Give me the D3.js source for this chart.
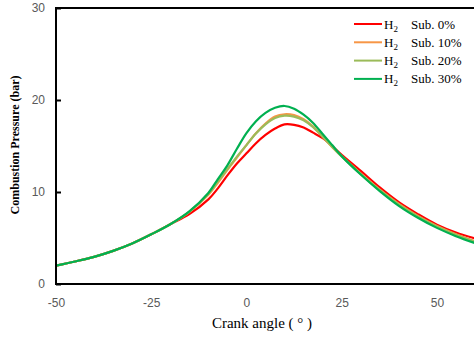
<!DOCTYPE html>
<html>
<head>
<meta charset="utf-8">
<script src="https://cdn.jsdelivr.net/npm/d3@7"></script>
<style>
  body { margin: 0; background: #fff; }
  svg { display: block; }
</style>
</head>
<body>
<svg id="chart" width="474" height="337"></svg>
<script>
// crank angles (deg) shared by all series
const angles = [-50, -45, -40, -35, -30, -25, -20, -15, -10, -7.5, -5, -2.5, 0, 2.5, 5, 7.5, 10, 12.5, 15, 17.5, 20, 22.5, 25, 30, 35, 40, 45, 50, 55, 60];

const sub0  = [2.0, 2.45, 2.95, 3.6, 4.4, 5.4, 6.5, 7.6, 9.2, 10.4, 11.8, 13.1, 14.2, 15.3, 16.2, 16.9, 17.35, 17.3, 17.0, 16.45, 15.85, 15.0, 14.05, 12.3, 10.5, 8.9, 7.6, 6.45, 5.6, 4.95];
const sub10 = [2.0, 2.45, 2.95, 3.6, 4.4, 5.4, 6.5, 7.85, 9.7, 11.0, 12.4, 13.75, 15.1, 16.4, 17.45, 18.2, 18.45, 18.35, 17.9, 17.1, 16.0, 14.9, 13.9, 12.0, 10.25, 8.7, 7.4, 6.3, 5.4, 4.65];
const sub20 = [2.0, 2.45, 2.95, 3.6, 4.4, 5.4, 6.5, 7.85, 9.8, 11.15, 12.5, 13.85, 15.1, 16.35, 17.35, 18.05, 18.3, 18.2, 17.8, 17.05, 16.0, 14.9, 13.85, 11.95, 10.2, 8.65, 7.35, 6.25, 5.35, 4.6];
const sub30 = [2.0, 2.45, 2.95, 3.6, 4.4, 5.4, 6.5, 7.9, 9.9, 11.4, 12.9, 14.7, 16.4, 17.7, 18.6, 19.15, 19.35, 19.05, 18.4, 17.5, 16.3, 15.1, 13.9, 11.9, 10.1, 8.5, 7.2, 6.1, 5.2, 4.45];

const seriesNames = ["0%", "10%", "20%", "30%"];
const seriesColors = ["#ff0000", "#f79646", "#9bbb59", "#00b050"];
const seriesValues = [sub0, sub10, sub20, sub30];

const xTicks = [-50, -25, 0, 25, 50];
const yTicks = [0, 10, 20, 30];

const svg = d3.select("#chart");
const margin = { top: 8, left: 56, bottom: 284, right: 475 };

const x = d3.scaleLinear().domain([-50, 60]).range([margin.left, margin.right]);
const y = d3.scaleLinear().domain([0, 30]).range([margin.bottom, margin.top]);

const tickFont = "12px 'Liberation Sans', Arial, sans-serif";

// y axis: ticks pointing inward, gray labels
const yAxis = svg.append("g")
  .attr("transform", `translate(${margin.left},0)`)
  .call(d3.axisRight(y).tickValues(yTicks).tickSize(5).tickFormat(d => String(d)));
yAxis.select(".domain").remove();
yAxis.selectAll("line").attr("stroke", "#000").attr("stroke-width", 2);
yAxis.selectAll("text")
  .attr("x", -11).attr("text-anchor", "end")
  .attr("fill", "#595959")
  .style("font", tickFont);

// x axis labels, no tick marks
const xAxis = svg.append("g")
  .attr("transform", `translate(0,${margin.bottom})`)
  .call(d3.axisBottom(x).tickValues(xTicks).tickSize(0).tickFormat(d => String(d)));
xAxis.select(".domain").remove();
xAxis.selectAll("text")
  .attr("y", 14)
  .attr("fill", "#595959")
  .style("font", tickFont);

// series
const line = d3.line()
  .x((d, i) => x(angles[i]))
  .y(d => y(d))
  .curve(d3.curveCatmullRom);

svg.append("defs").append("clipPath").attr("id", "clip")
  .append("rect").attr("x", margin.left).attr("y", margin.top)
  .attr("width", margin.right - margin.left).attr("height", margin.bottom - margin.top);

svg.append("g").attr("clip-path", "url(#clip)")
  .selectAll("path")
  .data(seriesValues)
  .enter()
  .append("path")
  .attr("d", line)
  .attr("fill", "none")
  .attr("stroke", (d, i) => seriesColors[i])
  .attr("stroke-width", 2.2);

// frame: left, bottom, top
svg.append("line").attr("x1", margin.left).attr("x2", margin.left)
  .attr("y1", margin.top - 1).attr("y2", margin.bottom + 1)
  .attr("stroke", "#000").attr("stroke-width", 2);
svg.append("line").attr("x1", margin.left - 1).attr("x2", 474)
  .attr("y1", margin.bottom).attr("y2", margin.bottom)
  .attr("stroke", "#000").attr("stroke-width", 2);
svg.append("line").attr("x1", margin.left - 1).attr("x2", 474)
  .attr("y1", margin.top).attr("y2", margin.top)
  .attr("stroke", "#000").attr("stroke-width", 2);

// legend
const legend = svg.append("g")
  .selectAll("g")
  .data(seriesNames)
  .enter()
  .append("g")
  .attr("transform", (d, i) => `translate(354,${24 + i * 18.3})`);
legend.append("line")
  .attr("x1", 0).attr("x2", 28)
  .attr("stroke", (d, i) => seriesColors[i])
  .attr("stroke-width", 2);
const lt = legend.append("text")
  .attr("x", 30).attr("y", 4.5)
  .style("font", "13px 'Liberation Serif', 'Times New Roman', serif")
  .attr("fill", "#000");
lt.append("tspan").text("H");
lt.append("tspan").attr("dy", 3).style("font-size", "9px").text("2");
lt.append("tspan").attr("x", 57).attr("dy", -3).text(d => "Sub. " + d);

// axis titles
svg.append("text")
  .attr("transform", "rotate(-90)")
  .attr("x", -145).attr("y", 19)
  .attr("text-anchor", "middle")
  .style("font", "bold 12px 'Liberation Serif', 'Times New Roman', serif")
  .text("Combustion Pressure (bar)");

svg.append("text")
  .attr("x", 262).attr("y", 328)
  .attr("text-anchor", "middle")
  .style("font", "15px 'Liberation Serif', 'Times New Roman', serif")
  .text("Crank angle ( ° )");
</script>
</body>
</html>
